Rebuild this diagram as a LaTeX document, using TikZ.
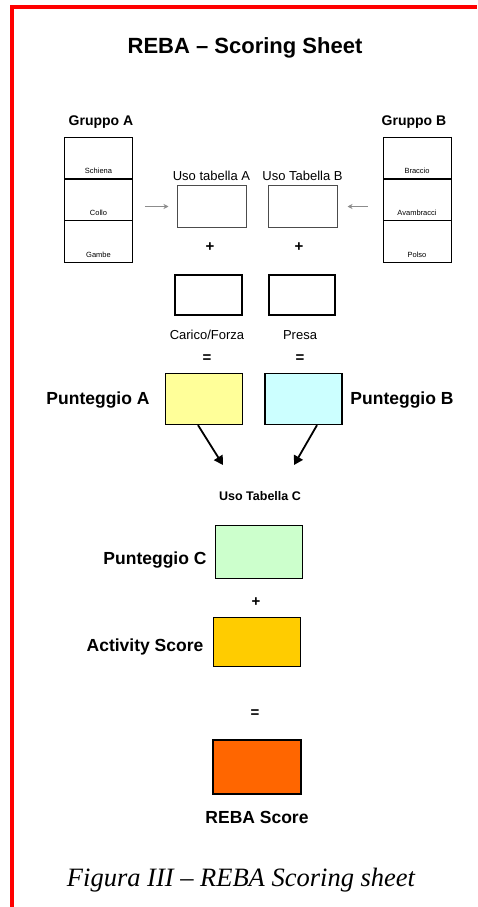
\documentclass[tikz,border=0pt]{standalone}
\usepackage{fontspec}
\setmainfont{Liberation Sans}
\newfontfamily\captionserif{Liberation Serif}
\usetikzlibrary{positioning,arrows.meta}
\definecolor{giallo}{HTML}{FFFF99}
\definecolor{azzurro}{HTML}{CCFFFF}
\definecolor{verdino}{HTML}{CCFFCC}
\definecolor{ocra}{HTML}{FFCC00}
\definecolor{arancio}{HTML}{FF6600}
\begin{document}
\begin{tikzpicture}[
		x=1pt, y=-1pt,
		cell/.style={rectangle,draw,line width=0.9pt,minimum width=68pt,minimum height=41.5pt,inner sep=0pt},
		tab/.style={rectangle,draw=black!70,line width=1pt,minimum width=69pt,minimum height=42pt,inner sep=0pt},
		extra/.style={rectangle,draw,line width=2.4pt,minimum width=66.5pt,minimum height=39.5pt,inner sep=0pt},
		score/.style={rectangle,draw,line width=1.3pt,minimum width=77pt,minimum height=51pt,inner sep=0pt},
		bigtxt/.style={font=\fontsize{17.5}{20}\selectfont\bfseries},
		midtxt/.style={font=\fontsize{13}{15}\selectfont},
		tinytxt/.style={font=\fontsize{7.5}{8}\selectfont,inner sep=0pt},
		op/.style={font=\fontsize{15}{16}\selectfont\bfseries},
		grigia/.style={draw=black!45,line width=1pt,-{Stealth[length=5pt,width=5pt]}},
		freccia/.style={draw,line width=1.8pt,-{Triangle[length=9pt,width=10pt]}}
	]
	\useasboundingbox (0,0) rectangle (477,907);
	% cornice rossa
	\draw[red,line width=4pt] (12,907) -- (12,7) -- (477,7);

	\node[font=\fontsize{22}{26}\selectfont\bfseries] (titolo) at (245,48) {REBA – Scoring Sheet};

	% gruppo A
	\node[font=\fontsize{14}{16}\selectfont\bfseries] (gruppoA) at (101,122) {Gruppo A};
	\node[cell] (schiena) at (98.5,158) {};
	\node[cell] (collo) at (98.5,200) {};
	\node[cell] (gambe) at (98.5,241.5) {};
	\node[tinytxt,above=5pt of schiena.south] (schienaL) {Schiena};
	\node[tinytxt,above=5pt of collo.south] (colloL) {Collo};
	\node[tinytxt,above=5pt of gambe.south] (gambeL) {Gambe};

	% gruppo B
	\node[font=\fontsize{14}{16}\selectfont\bfseries] (gruppoB) at (414,122) {Gruppo B};
	\node[cell] (braccio) at (417,158) {};
	\node[cell] (avambracci) at (417,200) {};
	\node[cell] (polso) at (417,241.5) {};
	\draw[line width=1.6pt] (braccio.north east) -- (polso.south east);
	\node[tinytxt,above=5pt of braccio.south] (braccioL) {Braccio};
	\node[tinytxt,above=5pt of avambracci.south] (avambracciL) {Avambracci};
	\node[tinytxt,above=5pt of polso.south] (polsoL) {Polso};

	% tabelle A e B
	\node[tab] (usoA) at (211.5,206.5) {};
	\node[tab] (usoB) at (302.5,206.5) {};
	\node[midtxt,above=1pt of usoA] (usoAL) {Uso tabella A};
	\node[midtxt,above=1pt of usoB] (usoBL) {Uso Tabella B};
	\draw[grigia,shorten <=12pt,shorten >=8pt] (collo.east |- usoA.west) -- (usoA.west);
	\draw[grigia,shorten <=15pt,shorten >=10pt] (avambracci.west |- usoB.east) -- (usoB.east);

	\node[op] (piuA) at (210,247) {+};
	\node[op] (piuB) at (299,247) {+};

	\node[extra] (carico) at (208.5,295) {};
	\node[extra] (presa) at (302,295) {};
	\node[midtxt] (caricoL) at (207,335) {Carico/Forza};
	\node[midtxt] (presaL) at (300,335) {Presa};
	\node[op] (ugualeA) at (207,359) {=};
	\node[op] (ugualeB) at (300,359) {=};

	% punteggi A e B
	\node[score,fill=giallo] (puntA) at (204,399) {};
	\node[score,fill=azzurro] (puntB) at (303.5,399) {};
	\node[bigtxt] (puntAL) at (98,400) {Punteggio A};
	\node[bigtxt] (puntBL) at (402,400) {Punteggio B};

	\coordinate (versoCa) at (223,465);
	\coordinate (versoCb) at (294,465);
	\draw[freccia] ([xshift=-6pt]puntA.south) -- (versoCa);
	\draw[freccia] ([xshift=13.5pt]puntB.south) -- (versoCb);

	\node[font=\fontsize{12.5}{15}\selectfont\bfseries] (usoC) at (260,496) {Uso Tabella C};

	% punteggio C e finale
	\node[score,fill=verdino,minimum width=87pt,minimum height=53pt] (puntC) at (259,552) {};
	\node[bigtxt] (puntCL) at (155,560) {Punteggio C};
	\node[op] (piuC) at (256,602) {+};
	\node[score,fill=ocra,minimum width=87pt,minimum height=49pt] (activity) at (257,642) {};
	\node[bigtxt] (activityL) at (145,647) {Activity Score};
	\node[op] (ugualeC) at (255,714) {=};
	\node[score,fill=arancio,line width=2pt,minimum width=88pt,minimum height=54pt] (reba) at (257,767) {};
	\node[bigtxt] (rebaL) at (257,817) {REBA Score};

	\node[font=\captionserif\itshape\fontsize{26.5}{30}\selectfont] (didascalia) at (241,880) {Figura III – REBA Scoring sheet};
\end{tikzpicture}
\end{document}
